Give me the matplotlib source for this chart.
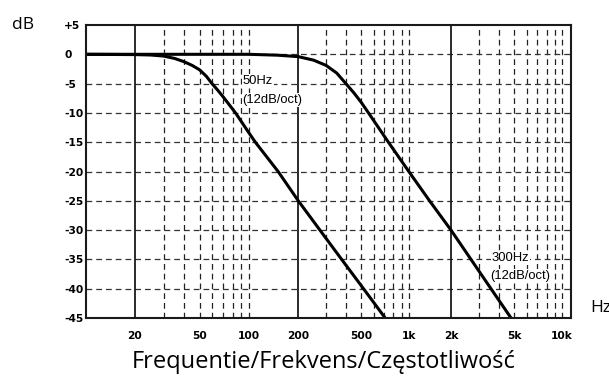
import matplotlib
matplotlib.use("Agg")
import matplotlib.pyplot as plt
import numpy as np

# ---- data ----
freq_50 = [10, 20, 25, 30, 35, 40, 45, 50, 55, 59.6, 65, 70, 83.2, 100, 110, 151, 200, 274, 376, 517, 709]
db_50 = [0, -0.05, -0.12, -0.3, -0.7, -1.25, -1.9, -2.65, -3.75, -5.0, -6.2, -7.3, -10, -13.3, -15, -20, -25, -30, -35, -40, -45]

freq_300 = [10, 100, 150, 200, 250, 300, 350, 400, 450, 500, 556, 743, 1000, 1406, 2000, 2672, 3570, 4777]
db_300 = [0, 0, -0.15, -0.4, -1.0, -1.9, -3.2, -5.0, -6.6, -8.2, -10, -15, -20, -25, -30, -35, -40, -45]

x_tick_vals = [20, 50, 100, 200, 500, 1000, 2000, 5000, 10000]
x_tick_labels = ["20", "50", "100", "200", "500", "1k", "2k", "5k", "10k"]
y_tick_vals = [5, 0, -5, -10, -15, -20, -25, -30, -35, -40, -45]
y_tick_labels = ["+5", "0", "-5", "-10", "-15", "-20", "-25", "-30", "-35", "-40", "-45"]

decade_lines = [20, 200, 2000]
minor_lines = [30, 40, 50, 60, 70, 80, 90, 100,
               300, 400, 500, 600, 700, 800, 900, 1000,
               3000, 4000, 5000, 6000, 7000, 8000, 9000, 10000]
h_lines = [0, -5, -10, -15, -20, -25, -30, -35, -40]

label_50 = ["50Hz", "(12dB/oct)"]
label_300 = ["300Hz", "(12dB/oct)"]

# ---- the reference's (slightly uneven) logarithmic frequency axis ----
_anchor_log = np.array([-10, 1, np.log10(20), 2, np.log10(200), 3, np.log10(2000), 4, np.log10(11400), 20])
_anchor_pos = np.array([-1704.8, 86, 135, 248.5, 298.3, 408.8, 451, 562, 571, 3102.8])


def _fwd(x):
    x = np.asarray(x, dtype=float)
    lx = np.log10(np.clip(x, 1e-10, None))
    return np.interp(lx, _anchor_log, _anchor_pos)


def _inv(p):
    p = np.asarray(p, dtype=float)
    return 10 ** np.interp(p, _anchor_pos, _anchor_log)


W, H = 609, 383
fig = plt.figure(figsize=(W / 100, H / 100), dpi=100)
ax = fig.add_axes([86 / W, 1 - 318 / H, 485 / W, 293 / H])
ax.set_xscale("function", functions=(_fwd, _inv))
ax.set_xlim(10, 11400)
ax.set_ylim(-45, 5)

dash = (0, (4.6, 3.2))
for v in minor_lines:
    ax.axvline(v, color="#222222", lw=0.9, ls=dash, zorder=1)
for h in h_lines:
    ax.axhline(h, color="#333333", lw=0.9, ls=dash, zorder=1)
for v in decade_lines:
    ax.axvline(v, color="#1a1a1a", lw=1.3, zorder=2)

ax.plot(freq_50, db_50, color="black", lw=2.2, zorder=4, solid_capstyle="butt", solid_joinstyle="round")
ax.plot(freq_300, db_300, color="black", lw=2.2, zorder=4, solid_capstyle="butt", solid_joinstyle="round")

ax.set_xticks(x_tick_vals)
ax.set_xticklabels(x_tick_labels)
ax.xaxis.set_minor_locator(matplotlib.ticker.NullLocator())
ax.set_yticks(y_tick_vals)
ax.set_yticklabels(y_tick_labels)
tick_fp = matplotlib.font_manager.FontProperties(family="DejaVu Sans", weight="bold", size=7.7)
for lab in ax.get_xticklabels() + ax.get_yticklabels():
    lab.set_fontproperties(tick_fp)
for lab in ax.get_yticklabels():
    lab.set_horizontalalignment("left")
ax.tick_params(axis="x", length=0, pad=9.5)
ax.tick_params(axis="y", length=0, pad=15.8)

for s in ax.spines.values():
    s.set_linewidth(1.5)
    s.set_color("#1a1a1a")
    s.set_zorder(5)

ann_font = "Liberation Sans"
box = dict(facecolor="white", edgecolor="none", pad=0.6)
ax.text(242.5 / W, 1 - 81 / H, label_50[0], transform=fig.transFigure, family=ann_font,
        size=9.4, ha="left", va="center", bbox=box, zorder=3)
ax.text(242.5 / W, 1 - 100 / H, label_50[1], transform=fig.transFigure, family=ann_font,
        size=9.4, ha="left", va="center", bbox=box, zorder=3)
ax.text(491.5 / W, 1 - 258 / H, label_300[0], transform=fig.transFigure, family=ann_font,
        size=9.4, ha="left", va="center", bbox=box, zorder=3)
ax.text(490.5 / W, 1 - 276 / H, label_300[1], transform=fig.transFigure, family=ann_font,
        size=9.4, ha="left", va="center", bbox=box, zorder=3)

fig.text(12 / W, 1 - 25 / H, "dB", family="Open Sans", size=12.5, ha="left", va="center")
fig.text(590 / W, 1 - 308 / H, "Hz", family="Open Sans", size=12.5, ha="left", va="center")
fig.text(323.5 / W, 1 - 362 / H, "Frequentie/Frekvens/Częstotliwość", family="Open Sans",
         size=17, ha="center", va="center")

fig.savefig("out.png", dpi=100)
